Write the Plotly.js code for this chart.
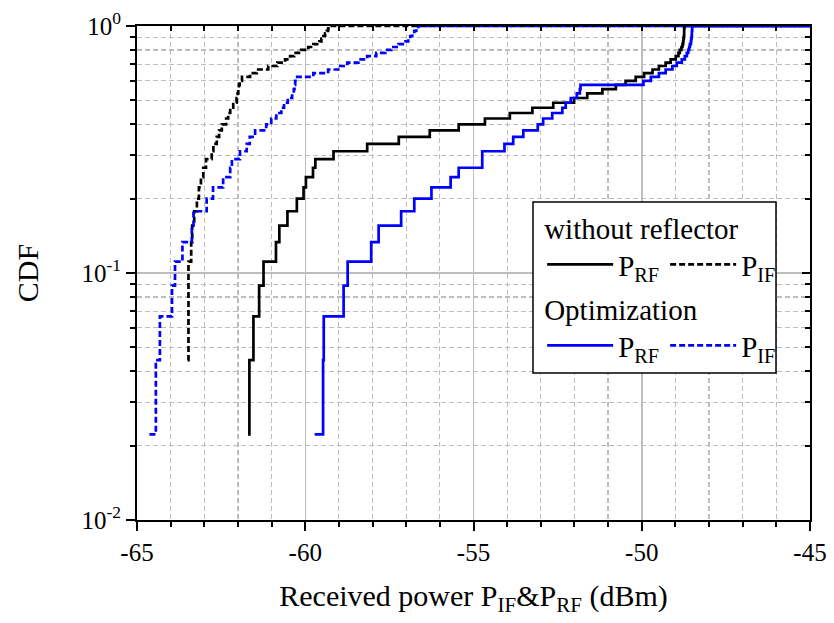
<!DOCTYPE html>
<html>
<head>
<meta charset="utf-8">
<script src="https://cdn.plot.ly/plotly-3.0.1.min.js"></script>
<style>html,body{margin:0;padding:0;background:#fff}#chart{width:834px;height:623px}</style>
</head>
<body>
<div id="chart"></div>
<script>
// CDF levels (45 samples) plus the flat extension at the right edge
const cdf = [0.0222,0.0444,0.0667,0.0889,0.1111,0.1333,0.1556,0.1778,0.2000,0.2222,
             0.2444,0.2667,0.2889,0.3111,0.3333,0.3556,0.3778,0.4000,0.4222,0.4444,
             0.4667,0.4889,0.5111,0.5333,0.5556,0.5778,0.6000,0.6222,0.6444,0.6667,
             0.6889,0.7111,0.7333,0.7556,0.7778,0.8000,0.8222,0.8444,0.8667,0.8889,
             0.9111,0.9333,0.9556,0.9778,1.0000,1.0000];
// black dashed curve starts at the second level (two equal lowest samples)
const cdfIFWithout = [0.0444,0.0667,0.0889,0.1111,0.1333,0.1556,0.1778,0.2000,0.2222,
             0.2444,0.2667,0.2889,0.3111,0.3333,0.3556,0.3778,0.4000,0.4222,0.4444,
             0.4667,0.4889,0.5111,0.5333,0.5556,0.5778,0.6000,0.6222,0.6444,0.6667,
             0.6889,0.7111,0.7333,0.7556,0.7778,0.8000,0.8222,0.8444,0.8667,0.8889,
             0.9111,0.9333,0.9556,0.9778,1.0000,1.0000];

// Received power (dBm)
const prfWithout = [-61.70,-61.66,-61.54,-61.37,-61.24,-60.87,-60.77,-60.53,-60.25,-60.05,
                    -59.98,-59.77,-59.70,-59.16,-58.16,-57.22,-56.30,-55.44,-54.66,-53.92,
                    -53.25,-52.63,-52.01,-51.62,-51.17,-50.77,-50.48,-50.18,-49.93,-49.68,
                    -49.49,-49.29,-49.14,-48.99,-48.91,-48.87,-48.82,-48.79,-48.77,-48.76,
                    -48.75,-48.74,-48.74,-48.74,-48.73,-45];
const pifWithout = [-63.50,-63.47,-63.47,-63.47,-63.39,-63.36,-63.30,-63.22,-63.16,
                    -63.10,-63.03,-62.95,-62.78,-62.73,-62.63,-62.56,-62.48,-62.35,-62.29,
                    -62.23,-62.14,-62.04,-62.01,-61.99,-61.97,-61.95,-61.88,-61.64,-61.44,
                    -61.10,-60.83,-60.60,-60.45,-60.33,-60.12,-59.91,-59.76,-59.58,-59.52,
                    -59.46,-59.41,-59.36,-59.32,-59.26,-45];
const prfOpt = [-59.72,-59.47,-59.45,-58.86,-58.74,-58.04,-57.82,-57.15,-56.76,-56.25,
                -55.68,-55.44,-54.74,-54.74,-54.08,-53.82,-53.52,-53.09,-52.93,-52.66,
                -52.36,-52.26,-52.11,-51.93,-51.84,-51.82,-49.95,-49.73,-49.49,-49.29,
                -49.09,-48.96,-48.81,-48.72,-48.66,-48.62,-48.59,-48.57,-48.54,-48.53,
                -48.52,-48.51,-48.51,-48.50,-48.50,-45];
const pifOpt = [-64.63,-64.44,-64.32,-63.96,-63.87,-63.65,-63.37,-63.32,-62.93,-62.74,
                -62.44,-62.23,-62.18,-61.94,-61.74,-61.65,-61.49,-61.16,-61.01,-60.86,
                -60.71,-60.63,-60.52,-60.39,-60.34,-60.32,-60.30,-60.24,-59.76,-59.32,
                -59.02,-58.75,-58.42,-58.16,-57.89,-57.62,-57.44,-57.23,-57.02,-56.94,
                -56.88,-56.82,-56.76,-56.70,-56.64,-45];

const xTickVals = [-65,-60,-55,-50,-45];
const xTickText = ['-65','-60','-55','-50','-45'];
const yTickVals = [0.01,0.1,1];
const yTickText = ['10<sup>-2</sup>','10<sup>-1</sup>','10<sup>0</sup>'];
const yMinorVals = [0.02,0.03,0.04,0.05,0.06,0.07,0.08,0.09,0.2,0.3,0.4,0.5,0.6,0.7,0.8,0.9];

const FONT = '"Liberation Serif", serif';
const BLUE = '#0000ff';
const GRID = '#bdbdbd';

const traces = [
  {x: prfWithout, y: cdf, mode:'lines', line:{shape:'hv', color:'#000', width:2.7},
   name:'P<sub>RF</sub>', legend:'legend'},
  {x: pifWithout, y: cdfIFWithout, mode:'lines', line:{shape:'hv', color:'#000', width:2.7, dash:'6px,3px'},
   name:'P<sub>IF</sub>', legend:'legend'},
  {x: prfOpt, y: cdf, mode:'lines', line:{shape:'hv', color:BLUE, width:2.7},
   name:'P<sub>RF</sub>', legend:'legend2'},
  {x: pifOpt, y: cdf, mode:'lines', line:{shape:'hv', color:BLUE, width:2.7, dash:'6px,3px'},
   name:'P<sub>IF</sub>', legend:'legend2'},
  {x: [], y: [], xaxis:'x2', yaxis:'y2', showlegend:false, hoverinfo:'skip', mode:'lines'}
];

const legendCommon = {
  orientation:'h', xanchor:'left', yanchor:'top', bgcolor:'rgba(0,0,0,0)', borderwidth:0,
  font:{family:FONT, size:29, color:'#000'}, itemwidth:66, entrywidth:42,
  itemclick:false, itemdoubleclick:false
};

const layout = {
  width:834, height:623,
  margin:{l:137, r:24, t:26, b:103, autoexpand:false},
  paper_bgcolor:'#fff', plot_bgcolor:'#fff',
  font:{family:FONT, color:'#000'},
  showlegend:true,
  xaxis:{
    range:[-65,-45], tickmode:'array', tickvals:xTickVals, ticktext:xTickText,
    ticks:'outside', ticklen:9, tickwidth:2, tickcolor:'#000',
    showline:true, linewidth:2, linecolor:'#000', zeroline:false,
    showgrid:true, gridcolor:GRID, gridwidth:1.5,
    tickfont:{family:FONT, size:25, color:'#000'},
    minor:{dtick:1, tick0:-65, ticks:'outside', ticklen:5, tickwidth:2, tickcolor:'#000',
           showgrid:true, gridcolor:GRID, gridwidth:1.2, griddash:'5px,3px'},
    title:{text:'Received power P<sub>IF</sub>&amp;P<sub>RF</sub> (dBm)', font:{family:FONT, size:30, color:'#000'}, standoff:20}
  },
  yaxis:{
    type:'log', range:[-2,0], tickmode:'array', tickvals:yTickVals, ticktext:yTickText,
    ticks:'outside', ticklen:9, tickwidth:2, tickcolor:'#000',
    showline:true, linewidth:2, linecolor:'#000', zeroline:false,
    showgrid:true, gridcolor:GRID, gridwidth:1.5,
    tickfont:{family:FONT, size:25, color:'#000'},
    minor:{tickmode:'array', tickvals:yMinorVals, ticks:'outside', ticklen:5, tickwidth:2, tickcolor:'#000',
           showgrid:true, gridcolor:GRID, gridwidth:1.2, griddash:'5px,3px'},
    title:{text:'CDF', font:{family:FONT, size:30, color:'#000'}, standoff:34}
  },
  xaxis2:{
    overlaying:'x', side:'top', anchor:'y2', range:[-65,-45], showticklabels:false,
    tickmode:'array', tickvals:xTickVals, ticks:'inside', ticklen:5, tickwidth:2, tickcolor:'#000',
    minor:{dtick:1, tick0:-65, ticks:'inside', ticklen:5, tickwidth:2, tickcolor:'#000'},
    showline:true, linewidth:2, linecolor:'#000', showgrid:false, zeroline:false
  },
  yaxis2:{
    overlaying:'y', side:'right', anchor:'x2', type:'log', range:[-2,0], showticklabels:false,
    tickmode:'array', tickvals:yTickVals, ticks:'inside', ticklen:8, tickwidth:2, tickcolor:'#000',
    minor:{tickmode:'array', tickvals:yMinorVals, ticks:'inside', ticklen:5, tickwidth:2, tickcolor:'#000'},
    showline:true, linewidth:2, linecolor:'#000', showgrid:false, zeroline:false
  },
  legend: Object.assign({}, legendCommon, {
    x:0.602, y:0.645,
    title:{text:'without reflector', side:'top', font:{family:FONT, size:29, color:'#000'}}
  }),
  legend2: Object.assign({}, legendCommon, {
    x:0.602, y:0.481,
    title:{text:'Optimization', side:'top', font:{family:FONT, size:29, color:'#000'}}
  }),
  shapes:[
    {type:'rect', xref:'paper', yref:'paper', x0:0.5884, x1:0.9495, y0:0.2976, y1:0.6437,
     line:{color:'#000', width:1.5}, fillcolor:'#fff', layer:'above'}
  ]
};

Plotly.newPlot('chart', traces, layout, {staticPlot:true, displayModeBar:false});
</script>
</body>
</html>
